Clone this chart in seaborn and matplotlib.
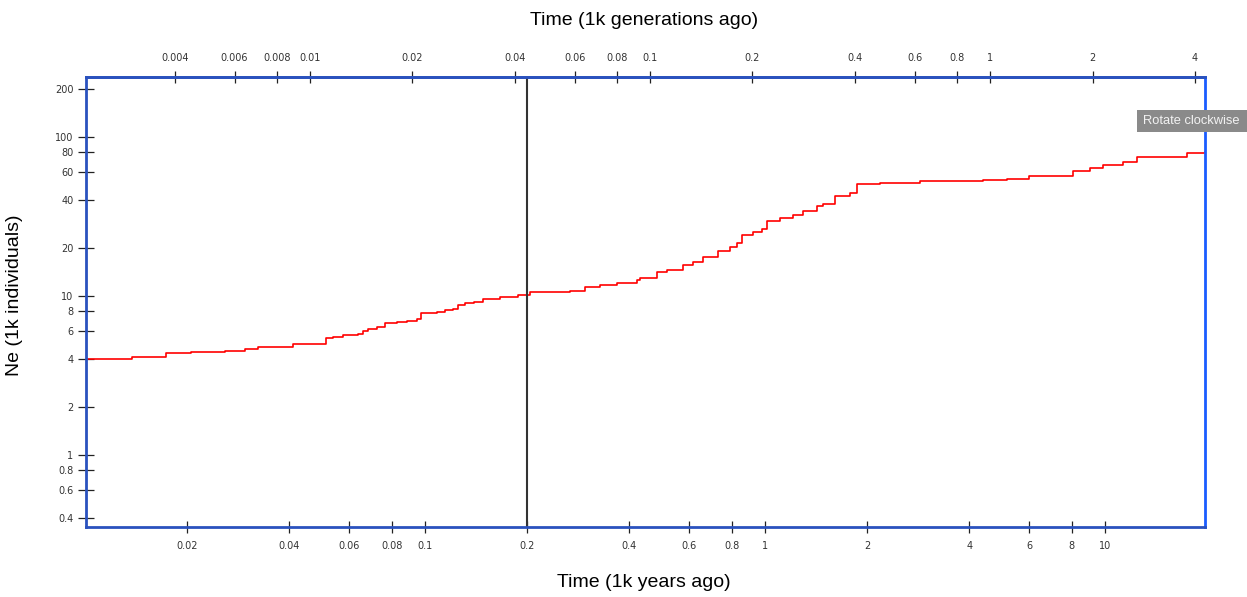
import numpy as np
import pandas as pd
import seaborn as sns
import matplotlib.pyplot as plt
from matplotlib.patches import Rectangle

# step curve (time in 1k years ago, Ne in 1k individuals)
time_kya = [0.0101, 0.0138, 0.0173, 0.0206, 0.0258, 0.0296, 0.0323, 0.041, 0.0512,
            0.0536, 0.0574, 0.0635, 0.0657, 0.068, 0.0722, 0.0763, 0.0827, 0.0886,
            0.0947, 0.0973, 0.1084, 0.1146, 0.1208, 0.125, 0.131, 0.140, 0.148, 0.166,
            0.188, 0.204, 0.267, 0.296, 0.327, 0.367, 0.42, 0.429, 0.481, 0.515, 0.574,
            0.614, 0.657, 0.727, 0.789, 0.827, 0.856, 0.922, 0.98, 1.014, 1.107, 1.209,
            1.294, 1.422, 1.481, 1.61, 1.78, 1.865, 2.18, 2.86, 4.38, 5.15, 6.0, 8.06,
            9.03, 9.87, 11.3, 12.4, 17.4, 19.7]
ne_k = [4.02, 4.1, 4.36, 4.44, 4.53, 4.62, 4.76, 4.97, 5.42,
        5.55, 5.66, 5.77, 5.97, 6.17, 6.41, 6.79, 6.89, 6.96,
        7.13, 7.78, 7.9, 8.17, 8.32, 8.78, 8.99, 9.21, 9.53, 9.81,
        10.15, 10.5, 10.8, 11.3, 11.7, 12.1, 12.6, 13.0, 14.2, 14.6, 15.7,
        16.4, 17.6, 19.2, 20.3, 21.4, 24.1, 25.2, 26.5, 29.6, 30.8, 32.3,
        34.4, 36.5, 37.9, 42.5, 44.6, 50.6, 51.5, 52.5, 53.6, 54.5, 56.8, 60.6,
        63.6, 66.6, 69.9, 74.3, 78.9, 80.0]

bottom_ticks = [0.02, 0.04, 0.06, 0.08, 0.1, 0.2, 0.4, 0.6, 0.8, 1, 2, 4, 6, 8, 10]
top_ticks = [0.004, 0.006, 0.008, 0.01, 0.02, 0.04, 0.06, 0.08, 0.1, 0.2, 0.4, 0.6, 0.8, 1, 2, 4]
y_ticks = [0.4, 0.6, 0.8, 1, 2, 4, 6, 8, 10, 20, 40, 60, 80, 100, 200]
gen_time = 4.6  # years per generation
marker_time = 0.2

df = pd.DataFrame({'time': time_kya, 'ne': ne_k})

sns.set_style('white')
plt.rcParams['font.family'] = ['Liberation Sans', 'DejaVu Sans']

fig = plt.figure(figsize=(12.47, 5.97), dpi=100)
ax = fig.add_axes([0.069, 0.1173, 0.8973, 0.7538])

sns.lineplot(data=df, x='time', y='ne', ax=ax, color='red', lw=1.2,
             drawstyle='steps-post', estimator=None)
ax.axvline(marker_time, color='#333333', lw=1.5)

ax.set_xscale('log')
ax.set_yscale('log')
ax.set_xlim(0.0101, 19.7)
ax.set_ylim(0.352, 238)


def fmt(v):
    return '%g' % v


ax.set_xticks(bottom_ticks)
ax.set_xticklabels([fmt(v) for v in bottom_ticks])
ax.set_yticks(y_ticks)
ax.set_yticklabels([fmt(v) for v in y_ticks])
ax.minorticks_off()
ax.tick_params(axis='x', bottom=True, direction='inout', length=8, width=0.9,
               color='#222222', labelsize=7, labelcolor='#333333', pad=6,
               labelfontfamily='DejaVu Sans')
ax.tick_params(axis='y', left=True, direction='inout', length=12, width=0.9,
               color='#222222', labelsize=7, labelcolor='#333333', pad=3,
               labelfontfamily='DejaVu Sans')

top = ax.secondary_xaxis('top', functions=(lambda x: x / gen_time, lambda g: g * gen_time))
top.set_xticks(top_ticks)
top.set_xticklabels([fmt(v) for v in top_ticks])
top.minorticks_off()
top.tick_params(axis='x', top=True, direction='inout', length=8, width=0.9,
                color='#222222', labelsize=7, labelcolor='#333333', pad=6,
                labelfontfamily='DejaVu Sans')
top.spines['top'].set_color('#2a52be')
top.spines['top'].set_linewidth(2)

for side in ['left', 'bottom', 'top']:
    ax.spines[side].set_color('#2a52be')
    ax.spines[side].set_linewidth(2)
ax.spines['right'].set_color('#1a5cff')
ax.spines['right'].set_linewidth(2)

ax.set_xlabel('')
ax.set_ylabel('')
fig.text(0.5165, 0.025, 'Time (1k years ago)', ha='center', va='center', fontsize=14,
         color='black')
fig.text(0.5165, 0.966, 'Time (1k generations ago)', ha='center', va='center',
         fontsize=14, color='black')
fig.text(0.012, 0.505, 'Ne (1k individuals)', ha='center', va='center', fontsize=14,
         rotation=90, color='black')

# screenshot tooltip overlay
fig.add_artist(Rectangle((1137 / 1247, 1 - 132 / 597), 120 / 1247, 22 / 597,
                         transform=fig.transFigure, facecolor='#8a8a8a',
                         edgecolor='none', zorder=5))
fig.text(1143 / 1247, 1 - 121 / 597, 'Rotate clockwise', ha='left', va='center',
         fontsize=9.3, color='#f2f2f2', zorder=6)

fig.savefig('out.png', dpi=100)
